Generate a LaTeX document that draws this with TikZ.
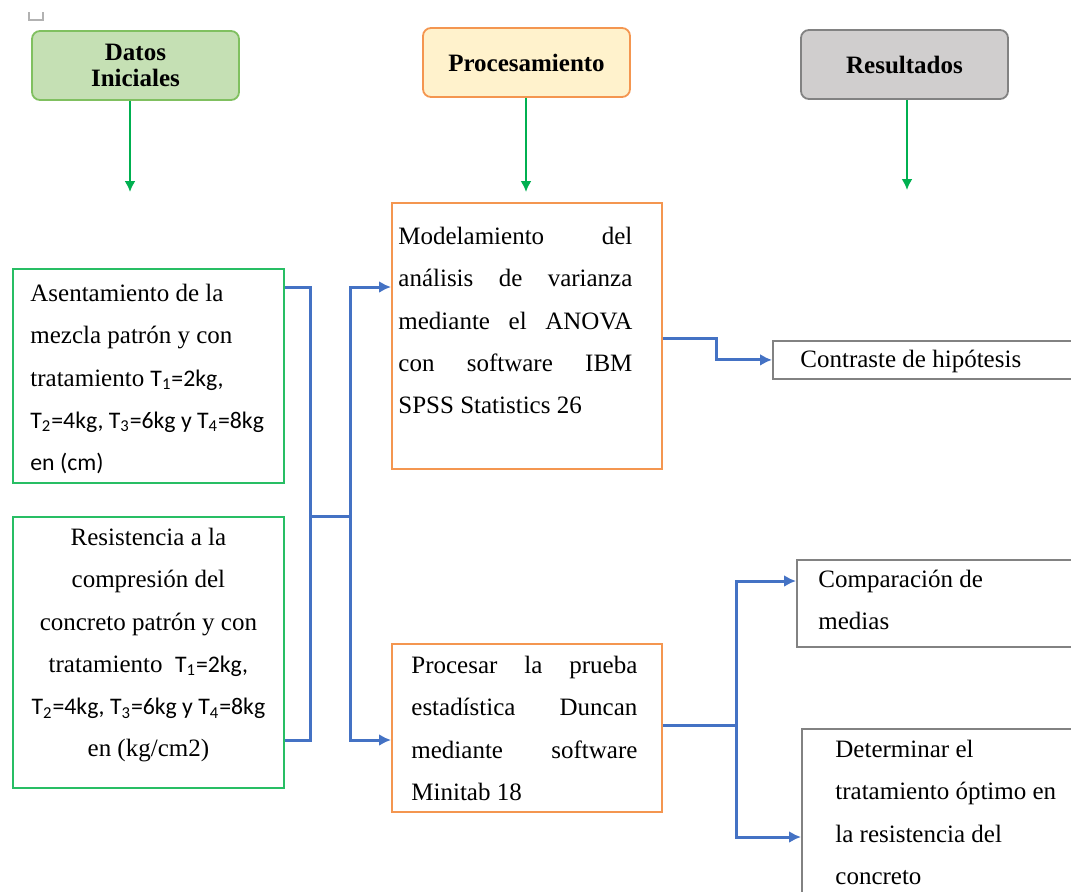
\documentclass[tikz,border=0pt]{standalone}
\usepackage{fontspec}
\setmainfont{Liberation Serif}
\newfontfamily\calfont{Carlito}[Scale=0.95]
\usetikzlibrary{arrows.meta,positioning}
\definecolor{datfill}{RGB}{197,224,180}
\definecolor{datline}{RGB}{128,192,96}
\definecolor{profill}{RGB}{255,242,204}
\definecolor{proline}{RGB}{244,150,80}
\definecolor{resfill}{RGB}{208,206,206}
\definecolor{resline}{RGB}{130,130,130}
\definecolor{boxgreen}{RGB}{40,190,100}
\definecolor{linkblue}{RGB}{68,114,196}
\definecolor{arrowgreen}{RGB}{0,176,80}
\tikzset{head/.style={rectangle,draw,rounded corners=4pt,line width=0.9pt,minimum width=103.5pt,minimum height=34.5pt,font=\fontsize{12.5}{13}\selectfont\bfseries,align=center}}
\tikzset{datos/.style={head,fill=datfill,draw=datline}}
\tikzset{proc/.style={head,fill=profill,draw=proline}}
\tikzset{resul/.style={head,fill=resfill,draw=resline}}
\tikzset{box/.style={rectangle,draw,line width=0.9pt,anchor=north west,inner sep=0pt}}
\tikzset{inbox/.style={box,draw=boxgreen}}
\tikzset{procbox/.style={box,draw=proline}}
\tikzset{outbox/.style={box,draw=resline}}
\tikzset{txt/.style={inner sep=0pt,align=flush left}}
\tikzset{link/.style={draw=linkblue,line width=1.5pt,>={Latex[length=6pt,width=6pt]}}}
\tikzset{down/.style={draw=arrowgreen,line width=1pt,->,>={Latex[length=5.5pt,width=5.5pt]}}}

\begin{document}
\begin{tikzpicture}[x=0.5pt,y=-0.5pt,font=\fontsize{12.5}{21.1}\selectfont]
    \useasboundingbox (0,0) rectangle (1071,891);
    \clip (0,0) rectangle (1071,891);
    \draw[gray!60,line width=0.6pt] (29,12) -- (29,20) -- (43,20) -- (43,12);

    \node[datos] (hdat) at (135.5,65.5) {Datos\\Iniciales};
    \node[proc] (hpro) at (526.5,62.5) {Procesamiento};
    \node[resul] (hres) at (904.5,64.5) {Resultados};

    \coordinate (ga) at (130,192);
    \coordinate (gb) at (526,192);
    \coordinate (gc) at (907,190);
    \path[down] (ga |- hdat.south) -- (ga);
    \path[down] (gb |- hpro.south) -- (gb);
    \path[down] (gc |- hres.south) -- (gc);

    \node[inbox,minimum width=135.5pt,minimum height=107pt] (a1) at (12,268) {};
    \node[inbox,minimum width=135.5pt,minimum height=135.5pt] (a2) at (12,516) {};
    \node[procbox,minimum width=135pt,minimum height=133pt] (p1) at (391,202) {};
    \node[procbox,minimum width=135pt,minimum height=84pt] (p2) at (391,643) {};
    \node[outbox,minimum width=159pt,minimum height=19pt] (r1) at (772,340) {};
    \node[outbox,minimum width=147pt,minimum height=43.5pt] (r2) at (796,559) {};
    \node[outbox,minimum width=144.5pt,minimum height=91pt] (r3) at (801,728) {};

    \node[txt,below right=8pt and 9pt of a1.north west] (a1t) {Asentamiento de la\\
        mezcla patrón y con\\
        tratamiento {\calfont T\textsubscript{1}=2kg,}\\
        {\calfont T\textsubscript{2}=4kg, T\textsubscript{3}=6kg y T\textsubscript{4}=8kg}\\
        {\calfont en (cm)}};
    \node[txt,align=center,below=6pt of a2.north] (a2t) {Resistencia a la\\
        compresión del\\
        concreto patrón y con\\
        tratamiento\ \ {\calfont T\textsubscript{1}=2kg,}\\
        {\calfont T\textsubscript{2}=4kg, T\textsubscript{3}=6kg y T\textsubscript{4}=8kg}\\
        en (kg/cm2)};
    \node[txt,text width=117pt,below right=12.5pt and 3.5pt of p1.north west] (p1t) {Modelamiento\hfill del\\
        análisis\hfill de\hfill varianza\\
        mediante\hfill el\hfill ANOVA\\
        con\hfill software\hfill IBM\\
        SPSS Statistics 26};
    \node[txt,text width=113pt,below right=6.5pt and 10pt of p2.north west] (p2t) {Procesar\hfill la\hfill prueba\\
        estadística\hfill Duncan\\
        mediante\hfill software\\
        Minitab 18};
    \node[txt,below right=5pt and 14pt of r1.north west] (r1t) {Contraste de hipótesis};
    \node[txt,below right=5.5pt and 11pt of r2.north west] (r2t) {Comparación de\\medias};
    \node[txt,below right=6pt and 17pt of r3.north west] (r3t) {Determinar el\\
        tratamiento óptimo en\\
        la resistencia del\\
        concreto};

    \coordinate (ja) at (310,287);
    \coordinate (jb) at (310,740);
    \coordinate (jm) at (350,516);
    \coordinate (jt) at (350,287);
    \coordinate (jd) at (350,740);
    \path[link] (a1.east |- ja) -- (ja) -- (jb) -- (a2.east |- jb);
    \path[link] (ja |- jm) -- (jm);
    \path[link,->] (jm) -- (jt) -- (p1.west |- jt);
    \path[link,->] (jm) -- (jd) -- (p2.west |- jd);

    \coordinate (kb) at (716,338);
    \coordinate (kc) at (736,725);
    \coordinate (kd) at (736,581);
    \coordinate (ke) at (736,837);
    \path[link,->] (p1.east |- kb) -- (kb) -- (kb |- r1.west) -- (r1.west);
    \path[link] (p2.east |- kc) -- (kc);
    \path[link,->] (kc) -- (kd) -- (r2.west |- kd);
    \path[link,->] (kc) -- (ke) -- (r3.west |- ke);
\end{tikzpicture}
\end{document}
